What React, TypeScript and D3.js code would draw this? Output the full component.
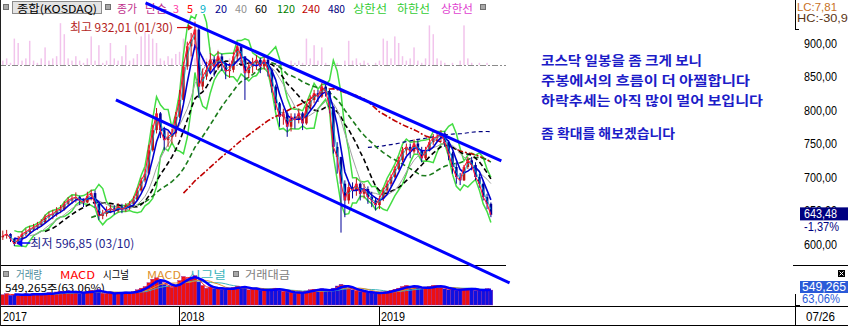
import React from "react";
import * as d3 from "d3";

// ---------- data (weekly) ----------
const firstWeek = "2017-02-15";
const firstOpen = 610;
const closes = [612,615,608,600,607,615,618,622,625,628,
 632,640,643,645,650,652,660,665,668,670,
 665,662,672,676,660,642,645,650,653,650,
 656,652,655,660,666,680,695,705,740,770,
 795,770,755,760,765,790,815,865,895,905,
 920,835,850,860,875,865,880,870,858,860,
 880,895,880,855,865,870,875,865,875,860,
 835,810,790,795,775,790,785,795,780,805,
 815,825,820,835,828,805,745,730,690,665,
 685,680,690,675,682,670,665,658,668,680,
 690,700,712,725,740,745,738,750,740,728,
 740,752,758,760,765,752,735,715,700,695,
 715,725,718,700,690,670,660,643.48];
const highs = [620,621,616,609,612,619,623,627,630,633,
 637,644,648,651,655,658,664,670,673,677,
 672,668,678,681,680,662,651,656,659,658,
 661,660,661,664,671,684,699,712,748,778,
 803,797,775,768,772,797,830,872,902,915,
 932,922,862,872,885,880,888,884,872,870,
 886,900,898,880,872,878,882,878,880,878,
 862,838,812,802,798,795,795,802,797,810,
 822,830,830,840,838,830,805,752,730,695,
 692,692,698,692,690,686,678,670,672,684,
 695,704,716,730,745,750,750,756,755,745,
 745,757,764,768,770,768,755,738,722,706,
 718,730,730,722,705,695,675,662];
const lows = [606,608,603,597,599,605,612,615,619,621,
 626,631,636,637,641,646,650,657,660,662,
 658,655,661,665,654,636,637,641,646,644,
 647,646,648,651,657,664,678,692,703,738,
 765,758,740,745,750,760,788,812,860,880,
 890,818,830,845,855,850,860,858,846,848,
 856,875,868,815,848,855,860,855,860,850,
 826,800,775,778,760,768,772,780,770,778,
 800,810,812,818,820,795,735,705,617,640,
 660,668,672,665,668,660,655,650,652,664,
 676,686,698,710,722,733,728,735,735,722,
 725,738,748,752,752,745,725,705,690,688,
 694,712,710,695,684,665,652,640];
const volumes = [380,420,360,400,350,390,410,370,430,380,
 400,420,450,400,480,500,460,520,440,480,
 430,460,500,540,480,560,430,410,450,420,
 470,440,480,420,500,560,620,680,820,950,
 1000,880,760,700,650,720,900,1050,980,1020,
 1080,850,720,620,660,600,640,580,560,600,
 650,700,620,680,560,580,600,540,520,560,
 600,620,540,500,480,460,440,470,450,520,
 560,580,540,600,520,500,620,700,760,680,
 620,560,520,500,480,460,450,420,440,480,
 500,540,580,620,680,720,650,700,640,600,
 620,680,720,700,660,600,560,580,540,560,
 600,620,580,540,520,560,600,549.265];
const limitUps = [2,3,1,12,10,2,3,11,2,1,
 3,8,2,3,4,19,14,3,2,4,
 2,1,3,13,2,9,1,2,10,3,
 2,4,9,2,3,5,13,15,14,12,
 10,3,2,4,3,5,6,12,10,4,
 3,2,4,3,8,2,7,2,1,3,
 2,4,2,1,2,3,2,1,2,1,
 0,1,0,1,0,2,1,2,1,12,
 3,9,2,8,1,0,0,1,0,2,
 11,2,3,1,2,1,0,1,2,12,
 11,3,13,10,4,2,3,8,2,1,
 3,18,14,3,2,1,0,1,0,2,
 18,3,1,0,1,0,1,0];

const priceTicks = [900, 850, 800, 750, 700, 650, 600];
const yearTicks = ["2018-01-01", "2019-01-01"];
const yearLabels = ["2017", "2018", "2019"];
const lastDateLabel = "07/26";
const upperTrend = { dates: ["2017-11-02", "2019-08-12"], prices: [960, 724] };
const lowerTrend = { dates: ["2017-09-09", "2019-08-27"], prices: [815, 542] };
const highMark = { value: "932,01", date: "01/30" };
const lowMark = { value: "596,85", date: "03/10" };
const lastPriceText = "643,48";
const lastChangeText = "-1,37%";
const lastVolumeText = "549,265";
const lastVolumeRatio = "63,06%";
const lcText = "LC:7,81";
const hcText = "HC:-30,96";
const notes = ["코스닥 일봉을 좀 크게 보니", "주봉에서의 흐름이 더 아찔합니다", "하락추세는 아직 많이 멀어 보입니다", "", "좀 확대를 해보겠습니다"];
const legendLabels = ["종가", "단순", "3", "5", "9", "20", "40", "60", "120", "240", "480", "상한선", "하한선", "상한선"];
const subLegendLabels = ["거래량", "MACD", "시그널", "MACD", "시그널", "거래대금"];
// moving average periods (days) -> weekly periods
const maDays = [3, 5, 9, 20, 40, 60, 120, 240, 480];
const maWeeks = [1, 1, 2, 4, 8, 12, 24, 48, 96];

// ---------- layout / style ----------
const legendX = [117, 145, 173, 187, 200, 215, 235, 255, 277, 302, 328, 353, 397, 441];
const legendW = [20, 22, 6, 6, 6, 12, 12, 12, 18, 18, 17, 34, 33, 32];
const legendC = ["#c0308c", "#c0308c", "#ff40a8", "#ff0000", "#00b0c8", "#000090", "#909090", "#000000", "#008000", "#c00000", "#000080", "#33cc33", "#33cc33", "#e040d0"];
const subX = [16, 60, 103, 147, 188, 245];
const subW = [26, 35, 26, 34, 38, 45];
const subC = ["#4b8c9c", "#ff0000", "#000000", "#e0902c", "#3cb4bc", "#808080"];
const maStyle = [
  { c: "#ff66cc", w: 1, d: "" },
  { c: "#ff0000", w: 1, d: "" },
  { c: "#00b0c8", w: 1, d: "" },
  { c: "#0000d0", w: 1.6, d: "" },
  { c: "#a0a0a0", w: 1, d: "" },
  { c: "#000000", w: 1.6, d: "5,3" },
  { c: "#1a7a1a", w: 1.6, d: "5,3" },
  { c: "#c00000", w: 1.6, d: "6,2,2,2" },
  { c: "#000080", w: 1.2, d: "4,3" },
];
const FONT = "'Noto Sans CJK KR', 'Noto Sans', sans-serif";
const NUMFONT = "'Liberation Sans', 'DejaVu Sans', sans-serif";

function sma(arr: number[], n: number): (number | null)[] {
  return arr.map((_, i) => (i < n - 1 ? null : (d3.mean(arr.slice(i - n + 1, i + 1)) as number)));
}
function popStd(arr: number[]) {
  const m = d3.mean(arr) as number;
  return Math.sqrt(d3.mean(arr.map((v) => (v - m) * (v - m))) as number);
}

export default function App() {
  const parse = d3.utcParse("%Y-%m-%d");
  const start = parse(firstWeek) as Date;
  const dates = closes.map((_, i) => d3.utcDay.offset(start, 7 * i));
  const opens = closes.map((_, i) => (i === 0 ? firstOpen : closes[i - 1]));

  const x = d3.scaleUtc().domain([parse("2018-01-01") as Date, parse("2019-07-26") as Date]).range([178.5, 492]);
  const y = d3.scaleLinear().domain([600, 900]).range([244, 43]);
  const yVol = d3.scaleLinear().domain([0, 1400]).range([305, 267]);
  const yPink = d3.scaleLinear().domain([0, 20]).range([65, 21]);

  const line = (vals: (number | null)[], ys: (v: number) => number) =>
    d3.line<number | null>()
      .defined((v) => v != null)
      .x((_, i) => x(dates[i]))
      .y((v) => ys(v as number))(vals) || "";

  const bbUpper = closes.map((_, i) => (i < 3 ? null : (d3.mean(closes.slice(i - 3, i + 1)) as number) + 2 * popStd(closes.slice(i - 3, i + 1))));
  const bbLower = closes.map((_, i) => (i < 3 ? null : (d3.mean(closes.slice(i - 3, i + 1)) as number) - 2 * popStd(closes.slice(i - 3, i + 1))));

  const mas = maWeeks.map((p) => sma(closes, p));
  const hiIdx = d3.maxIndex(highs);
  const loIdx = d3.minIndex(lows);
  const hx = x(dates[hiIdx]) - 2, hy = y(highs[hiIdx]) + 6;
  const lx = x(dates[loIdx]) + 2, ly = y(lows[loIdx]) - 3;
  const yLast = y(closes[closes.length - 1]);

  const tl = (t: { dates: string[]; prices: number[] }) =>
    d3.line<number>().x((_, i) => x(parse(t.dates[i]) as Date)).y((p) => y(p))(t.prices) || "";

  const up = (i: number) => closes[i] >= opens[i];

  return (
    <svg width={848} height={326} style={{ position: "fixed", left: 0, top: 0, background: "#fff" }} fontFamily={FONT}>
      <defs>
        <clipPath id="pc"><rect x={1} y={14} width={505} height={251} /></clipPath>
        <clipPath id="vc"><rect x={1} y={266} width={505} height={40} /></clipPath>
      </defs>
      <rect width={848} height={326} fill="#fff" />

      {/* pink limit-up bars */}
      <g clipPath="url(#pc)">
        {limitUps.map((v, i) => v > 0 && (
          <rect key={i} x={x(dates[i]) - 0.75} y={yPink(v)} width={1.5} height={yPink(0) - yPink(v)} fill="#f2c4ec" />
        ))}
        <line x1={0} x2={506} y1={65.5} y2={65.5} stroke="#8a8a8a" strokeDasharray="6,2,2,2" />
        {/* bollinger */}
        <path d={line(bbUpper, y)} fill="none" stroke="#44dd44" strokeWidth={1.5} />
        <path d={line(bbLower, y)} fill="none" stroke="#44dd44" strokeWidth={1.5} />
        {[8, 7, 6, 5, 4].map((k) => (
          <path key={k} d={line(mas[k], y)} fill="none" stroke={maStyle[k].c} strokeWidth={maStyle[k].w} strokeDasharray={maStyle[k].d || undefined} />
        ))}
        {closes.map((c, i) => {
          const cx = x(dates[i]);
          const col = up(i) ? "#c01414" : "#000098";
          const top = y(Math.max(c, opens[i]));
          const bot = y(Math.min(c, opens[i]));
          return (
            <g key={i}>
              <line x1={cx} x2={cx} y1={y(highs[i])} y2={y(lows[i])} stroke={col} strokeWidth={1} />
              <rect x={cx - 1.3} y={top} width={2.6} height={Math.max(1, bot - top)} fill={col} />
            </g>
          );
        })}
        {[3, 2, 0, 1].map((k) => (
          <path key={k} d={line(mas[k], y)} fill="none" stroke={maStyle[k].c} strokeWidth={maStyle[k].w} opacity={k === 3 ? 1 : 0.8} />
        ))}
      </g>

      {/* annotations on high / low */}
      <text x={hx - 20} y={hy + 4} textAnchor="end" fontSize={12} fill="#b41e1e" textLength={103} lengthAdjust="spacingAndGlyphs">{`최고 ${highMark.value} (${highMark.date})`}</text>
      <line x1={hx - 16} x2={hx - 4} y1={hy} y2={hy} stroke="#d01010" strokeWidth={1.2} />
      <path d={`M${hx},${hy} L${hx - 5},${hy - 3} L${hx - 5},${hy + 3} Z`} fill="#d01010" />
      <line x1={lx + 4} x2={lx + 14} y1={ly} y2={ly} stroke="#0000ff" strokeWidth={1.5} />
      <path d={`M${lx},${ly} L${lx + 6},${ly - 4} L${lx + 6},${ly + 4} Z`} fill="#0000ff" />
      <text x={lx + 14} y={ly + 5} fontSize={12} fill="#1e1e8c" textLength={104} lengthAdjust="spacingAndGlyphs">{`최저 ${lowMark.value} (${lowMark.date})`}</text>

      {/* top legend */}
      <rect x={3.5} y={4.5} width={5} height={5} fill="#a8a8a8" stroke="#707070" />
      <rect x={12.5} y={1.5} width={89} height={12} fill="#e4e4e4" stroke="#8c8c8c" />
      <text x={17} y={12.5} fontSize={11} fill="#000" textLength={80} lengthAdjust="spacingAndGlyphs">종합(KOSDAQ)</text>
      <rect x={105.5} y={4.5} width={5} height={5} fill="#a8a8a8" stroke="#707070" />
      {legendLabels.map((t, i) => (
        <text key={i} x={legendX[i]} y={12.5} fontSize={11} fill={legendC[i]} textLength={legendW[i]} lengthAdjust="spacingAndGlyphs">{t}</text>
      ))}
      <rect x={480.5} y={4.5} width={5} height={5} fill="#a8a8a8" stroke="#707070" />

      {/* trend lines */}
      <path d={tl(upperTrend)} stroke="#0000ff" strokeWidth={3} fill="none" />

      {/* pane separators */}
      <line x1={0} x2={506} y1={265.5} y2={265.5} stroke="#000" />
      <line x1={793} x2={848} y1={265.5} y2={265.5} stroke="#000" />
      <line x1={0} x2={848} y1={306.5} y2={306.5} stroke="#000" />
      <line x1={0} x2={848} y1={325.5} y2={325.5} stroke="#000" />
      <line x1={0.5} x2={0.5} y1={0} y2={326} stroke="#202020" />

      {/* volume pane */}
      <rect x={3.5} y={271.5} width={5} height={5} fill="#a8a8a8" stroke="#707070" />
      <rect x={233.5} y={271.5} width={5} height={5} fill="#a8a8a8" stroke="#707070" />
      {subLegendLabels.map((t, i) => (
        <text key={i} x={subX[i]} y={279} fontSize={11} fill={subC[i]} textLength={subW[i]} lengthAdjust="spacingAndGlyphs">{t}</text>
      ))}
      <text x={5} y={292} fontSize={10.5} fill="#000" textLength={100} lengthAdjust="spacingAndGlyphs">{`${lastVolumeText}주(${lastVolumeRatio})`}</text>
      <g clipPath="url(#vc)">
        {volumes.map((v, i) => (
          <rect key={i} x={x(dates[i]) - 1.9} y={yVol(v)} width={3.8} height={yVol(0) - yVol(v)} fill={up(i) ? "#ee1010" : "#1010e0"} stroke="#9020a0" strokeWidth={0.4} />
        ))}
        <path d={line(sma(volumes, 12), yVol)} fill="none" stroke="#3cb4bc" strokeWidth={1} />
        <path d={line(sma(volumes, 8), yVol)} fill="none" stroke="#e0902c" strokeWidth={1} />
        <path d={line(sma(volumes, 2), yVol)} fill="none" stroke="#ff2020" strokeWidth={1} />
        <path d={line(sma(volumes, 4), yVol)} fill="none" stroke="#0000ff" strokeWidth={2.5} />
      </g>
      <path d={tl(lowerTrend)} stroke="#0000ff" strokeWidth={3} fill="none" />

      {/* date axis */}
      {yearTicks.map((t) => (
        <line key={t} x1={Math.round(x(parse(t) as Date)) + 0.5} x2={Math.round(x(parse(t) as Date)) + 0.5} y1={306} y2={326} stroke="#000" />
      ))}
      {yearLabels.map((t, i) => (
        <text key={t} x={i === 0 ? 3 : x(parse(yearTicks[i - 1]) as Date) + 2} y={321} fontSize={12} fontFamily={NUMFONT} fill="#000" textLength={24} lengthAdjust="spacingAndGlyphs">{t}</text>
      ))}

      {/* right axis */}
      <line x1={795.5} x2={795.5} y1={0} y2={30} stroke="#000" />
      <line x1={795} x2={799} y1={29.5} y2={29.5} stroke="#000" />
      <line x1={795.5} x2={795.5} y1={294} y2={306} stroke="#000" />
      <line x1={795} x2={800} y1={305.5} y2={305.5} stroke="#000" />
      <line x1={795.5} x2={795.5} y1={306} y2={326} stroke="#000" />
      <text x={797} y={11} fontSize={11} fontFamily={NUMFONT} fill="#c8701e" textLength={40} lengthAdjust="spacingAndGlyphs">{lcText}</text>
      <text x={797} y={21.5} fontSize={11} fontFamily={NUMFONT} fill="#5a3414" textLength={58} lengthAdjust="spacingAndGlyphs">{hcText}</text>
      {priceTicks.map((v) => (
        <text key={v} x={804} y={y(v) + 4.5} fontSize={12} fontFamily={NUMFONT} fill="#000" textLength={33} lengthAdjust="spacingAndGlyphs">{d3.format(".2f")(v).replace(".", ",")}</text>
      ))}
      <rect x={800} y={yLast - 7.5} width={48} height={13} fill="#000080" />
      <text x={804} y={yLast + 3.5} fontSize={12} fontFamily={NUMFONT} fill="#fff" textLength={33} lengthAdjust="spacingAndGlyphs">{lastPriceText}</text>
      <text x={804} y={yLast + 16} fontSize={12} fontFamily={NUMFONT} fill="#000080" textLength={35} lengthAdjust="spacingAndGlyphs">{lastChangeText}</text>
      <rect x={838} y={270} width={7} height={7} fill="#000" />
      <path d="M839.5,271.5 L843.5,275.5 M843.5,271.5 L839.5,275.5" stroke="#fff" strokeWidth={1} />
      <rect x={800} y={281} width={48} height={12} fill="#2a5ad8" />
      <text x={802} y={291} fontSize={12} fontFamily={NUMFONT} fill="#fff" textLength={44} lengthAdjust="spacingAndGlyphs">{lastVolumeText}</text>
      <text x={802} y={303} fontSize={12} fontFamily={NUMFONT} fill="#2a5ad8" textLength={38} lengthAdjust="spacingAndGlyphs">{lastVolumeRatio}</text>
      <text x={806} y={321} fontSize={12} fontFamily={NUMFONT} fill="#000" textLength={29} lengthAdjust="spacingAndGlyphs">{lastDateLabel}</text>

      {/* commentary */}
      {notes.map((t, i) => t && (
        <text key={i} x={541} y={65 + i * 20 - (i === 4 ? 7 : 0)} fontSize={13} fontWeight="bold" fill="#1c1cc8"
          textLength={[161, 209, 222, 0, 134][i]} lengthAdjust="spacingAndGlyphs">{t}</text>
      ))}
    </svg>
  );
}
